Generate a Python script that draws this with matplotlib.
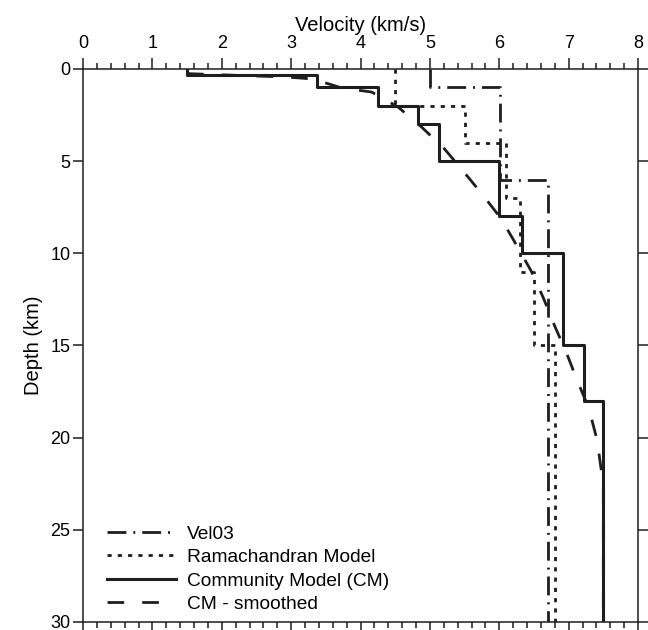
import matplotlib
matplotlib.use("Agg")
import matplotlib.pyplot as plt
from matplotlib.ticker import MultipleLocator

plt.rcParams['font.family'] = ['Liberation Sans', 'DejaVu Sans']

# layer models: velocity (km/s) per layer, depth boundaries (km)
vel03_v = [5.0, 6.01, 6.70]
vel03_z = [0, 1, 6, 30]

rama_v = [4.5, 5.5, 6.1, 6.3, 6.5, 6.8]
rama_z = [0, 2, 4, 7, 11, 15, 30]

cm_v = [1.5, 3.37, 4.25, 4.83, 5.13, 6.0, 6.33, 6.92, 7.22, 7.5]
cm_z = [0, 0.3, 1, 2, 3, 5, 8, 10, 15, 18, 30]

# smoothed community model
sm_v = [1.5, 1.64, 2.48, 2.91, 3.31, 3.73, 4.16, 4.54, 4.88, 5.20, 5.48, 5.75,
        6.02, 6.24, 6.46, 6.63, 6.80, 6.97, 7.12, 7.29, 7.41, 7.46, 7.5, 7.5]
sm_z = [0.25, 0.27, 0.38, 0.43, 0.54, 1.03, 1.25, 2.06, 3.15, 4.29, 5.54, 6.78,
        8.08, 9.50, 10.96, 12.37, 13.95, 15.41, 16.87, 18.39, 20.13, 21.49, 22.5, 30]


def steps(v, z):
    xs, ys = [], []
    for i in range(len(v)):
        xs += [v[i], v[i]]
        ys += [z[i], z[i + 1]]
    return xs, ys


col = '#1e1e1e'
fig = plt.figure(figsize=(6.48, 6.30), dpi=100)
ax = fig.add_axes([0.1281, 0.0127, 0.8565, 0.8778])

x, y = steps(vel03_v, vel03_z)
ax.plot(x, y, color=col, lw=2, dashes=(6.8, 2.5, 0.7, 2.5), label='Vel03')
x, y = steps(rama_v, rama_z)
ax.plot(x, y, color=col, lw=2, dashes=(1.5, 2.2), label='Ramachandran Model')
x, y = steps(cm_v, cm_z)
ax.plot(x, y, color=col, lw=2.2, label='Community Model (CM)')
ax.plot(sm_v, sm_z, color=col, lw=2, dashes=(6, 6.5), label='CM - smoothed')

ax.set_xlim(0, 8)
ax.set_ylim(30, 0)
ax.xaxis.set_major_locator(MultipleLocator(1))
ax.xaxis.set_minor_locator(MultipleLocator(0.2))
ax.yaxis.set_major_locator(MultipleLocator(5))

ax.tick_params(axis='x', which='both', top=True, bottom=True, labeltop=True,
               labelbottom=False, direction='out', width=1.1, color=col)
ax.tick_params(axis='x', which='major', length=8, pad=4, labelsize=13)
ax.tick_params(axis='x', which='minor', length=4)
ax.tick_params(axis='y', which='major', left=True, right=True, labelleft=True,
               labelright=False, direction='out', length=7, width=1.1,
               pad=2, labelsize=13, color=col)
for s in ax.spines.values():
    s.set_linewidth(1.1)
    s.set_color(col)

ax.xaxis.set_label_position('top')
ax.set_xlabel('Velocity (km/s)', fontsize=14.5, labelpad=3)
ax.set_ylabel('Depth (km)', fontsize=14.5, labelpad=5)

ax.legend(loc='lower left', bbox_to_anchor=(0.043, 0.016), frameon=False,
          fontsize=13.8, handlelength=3.6, handletextpad=0.6, labelspacing=0.32,
          borderpad=0, borderaxespad=0)

fig.savefig('out.png', dpi=100)
